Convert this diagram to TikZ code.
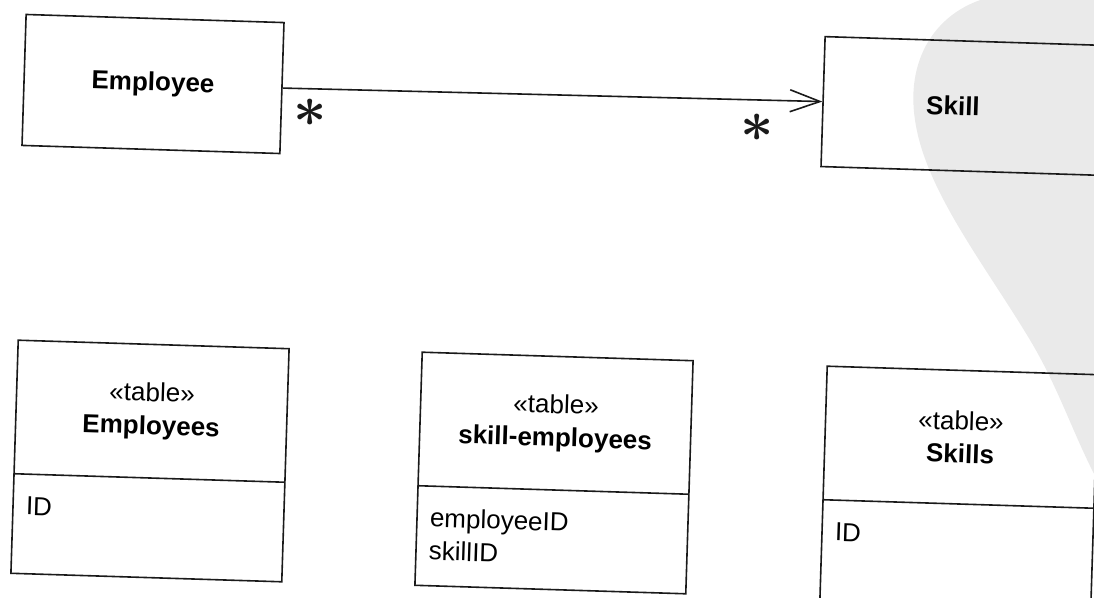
\documentclass[tikz,border=0pt]{standalone}
\usepackage{fontspec}
\setmainfont{Liberation Sans}
\usepackage{amsmath}
\usepackage{tikz}
\usetikzlibrary{positioning,shapes,shapes.multipart,arrows.meta}
\definecolor{ink}{HTML}{1A1A1A}
\definecolor{stamp}{HTML}{EAEAEA}
\newcommand{\many}{\scalebox{2.9}{$\boldsymbol{\ast}$}}
\newcommand{\tablehead}[1]{\parbox[c][66pt][c]{135.5pt}{\centering «table»\\\textbf{#1}}}
\newcommand{\tablecols}[1]{\parbox[c][49pt][t]{135.5pt}{\raggedright\leftskip=6.5pt\rule{0pt}{20pt}#1}}
\tikzset{
    classbox/.style={rectangle, draw=ink, line width=0.8pt, minimum width=129pt, minimum height=65.5pt, rotate=-1.8, font=\fontsize{13}{15}\selectfont\bfseries},
    tablebox/.style={rectangle split, rectangle split parts=2, draw=ink, line width=0.8pt, inner sep=0pt, rotate=-1.8, font=\fontsize{13}{16.5}\selectfont},
    assoc/.style={-{Straight Barb[length=15pt, width=11pt, line width=0.8pt]}, line width=0.8pt, color=ink},
    mult/.style={inner sep=0pt, text=ink},
    stampfill/.style={fill=stamp, draw=none}
}

\begin{document}
\begin{tikzpicture}[x=0.5pt, y=-0.5pt]
\useasboundingbox (0,0) rectangle (1094,598);
\clip (0,0) rectangle (1094,598);
% watermark behind the right side
\fill[stampfill] (1000,-5) .. controls (940,5) and (905,55) .. (915,120) .. controls (925,190) and (985,265) .. (1030,340) .. controls (1060,390) and (1075,440) .. (1100,485) -- (1100,-5) -- cycle;

% domain classes
\node[classbox] (employee) at (153,84) {Employee};
\node[classbox, minimum width=140pt, minimum height=65pt] (skill) at (963,106) {\hspace*{-10pt}Skill};
\draw[assoc] (employee.east) -- (skill.west);
\node[mult] (manyEmp) at (310,113) {\many};
\node[mult] (manySkill) at (757,128) {\many};

% database tables
\node[tablebox] (employees) at (150,461) {\tablehead{Employees}\nodepart{two}\tablecols{ID}};
\node[tablebox] (skillemp) at (554,473) {\tablehead{skill-employees}\nodepart{two}\tablecols{employeeID\\skillID}};
\node[tablebox] (skills) at (959,487) {\tablehead{Skills}\nodepart{two}\tablecols{ID}};
\end{tikzpicture}
\end{document}
